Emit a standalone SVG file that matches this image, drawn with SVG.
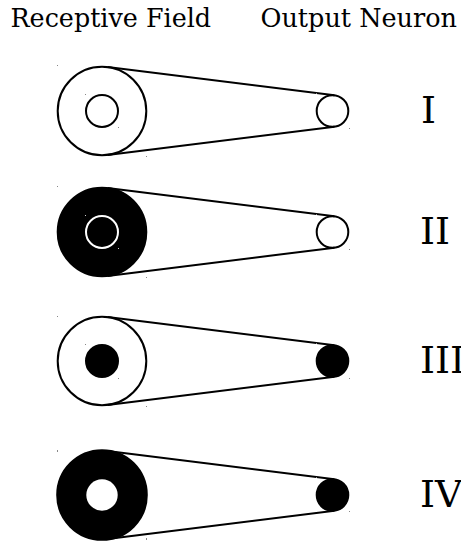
<svg xmlns="http://www.w3.org/2000/svg" width="461" height="542" viewBox="0 0 461 542">
<style>
.ring{stroke:#000;stroke-width:2}
.w{fill:#fff}
.b{fill:#000}
.ws{fill:none;stroke:#fff;stroke-width:2}
.ln{stroke:#000;stroke-width:2;fill:none}
.dot{fill:#888}
</style>
<rect width="461" height="542" fill="#fff"/>
<g id="header">
<text x="10.5" y="26.7" style="font-family:'DejaVu Serif',serif" font-size="25.4">Receptive Field</text>
<text x="260.5" y="26.7" style="font-family:'DejaVu Serif',serif" font-size="25.5">Output Neuron</text>
</g>
<g id="row1">
<circle class="ring w" cx="102" cy="111" r="44.3"/>
<circle class="ring w" cx="102" cy="111" r="16"/>
<circle class="ring w" cx="332.5" cy="111" r="15.8"/>
<text x="421" y="122.5" style="font-family:'DejaVu Serif',serif" font-size="38">I</text>
</g>
<g id="row2">
<circle class="ring b" cx="102" cy="232" r="44.3"/>
<circle class="ws" cx="102" cy="232" r="16"/>
<circle class="ring w" cx="332.5" cy="232" r="15.8"/>
<text x="420" y="244" style="font-family:'DejaVu Serif',serif" font-size="38">II</text>
</g>
<g id="row3">
<circle class="ring w" cx="102" cy="361" r="44.3"/>
<circle class="ring b" cx="102" cy="361" r="16"/>
<circle class="ring b" cx="332.5" cy="361" r="15.8"/>
<text x="420" y="373" style="font-family:'DejaVu Serif',serif" font-size="38">III</text>
</g>
<g id="row4">
<circle class="ring b" cx="102" cy="495" r="44.8"/>
<circle class="w" cx="102" cy="495" r="15.7"/>
<circle class="ring b" cx="332.5" cy="495" r="15.8"/>
<text x="420" y="507" style="font-family:'DejaVu Serif',serif" font-size="38">IV</text>
</g>
<g id="connectors">
<line class="ln" x1="107.48" y1="67.04" x2="334.45" y2="95.32"/>
<line class="ln" x1="107.48" y1="154.96" x2="334.45" y2="126.68"/>
<line class="ln" x1="107.48" y1="188.04" x2="334.45" y2="216.32"/>
<line class="ln" x1="107.48" y1="275.96" x2="334.45" y2="247.68"/>
<line class="ln" x1="107.48" y1="317.04" x2="334.45" y2="345.32"/>
<line class="ln" x1="107.48" y1="404.96" x2="334.45" y2="376.68"/>
<line class="ln" x1="107.48" y1="451.04" x2="334.45" y2="479.32"/>
<line class="ln" x1="107.48" y1="538.96" x2="334.45" y2="510.68"/>
</g>
<g id="marks">
<rect class="dot" x="57" y="65" width="1" height="1"/>
<rect class="dot" x="146" y="156" width="1" height="1"/>
<rect class="dot" x="85" y="94" width="1" height="1"/>
<rect class="dot" x="118" y="127" width="1" height="1"/>
<rect class="dot" x="316" y="93" width="1" height="1"/>
<rect class="dot" x="349" y="128" width="1" height="1"/>
<rect class="dot" x="57" y="186" width="1" height="1"/>
<rect class="dot" x="146" y="277" width="1" height="1"/>
<rect x="85" y="215" width="1" height="1" fill="#ccc"/>
<rect x="118" y="248" width="1" height="1" fill="#ccc"/>
<rect class="dot" x="316" y="214" width="1" height="1"/>
<rect class="dot" x="349" y="249" width="1" height="1"/>
<rect class="dot" x="57" y="316" width="1" height="1"/>
<rect class="dot" x="146" y="406" width="1" height="1"/>
<rect class="dot" x="85" y="344" width="1" height="1"/>
<rect class="dot" x="118" y="378" width="1" height="1"/>
<rect class="dot" x="316" y="343" width="1" height="1"/>
<rect class="dot" x="349" y="378" width="1" height="1"/>
<rect class="dot" x="57" y="450" width="1" height="2"/>
<rect class="dot" x="146" y="538" width="1" height="2"/>
<rect class="dot" x="316" y="477" width="1" height="1"/>
<rect class="dot" x="349" y="511" width="1" height="1"/>
</g>
</svg>
